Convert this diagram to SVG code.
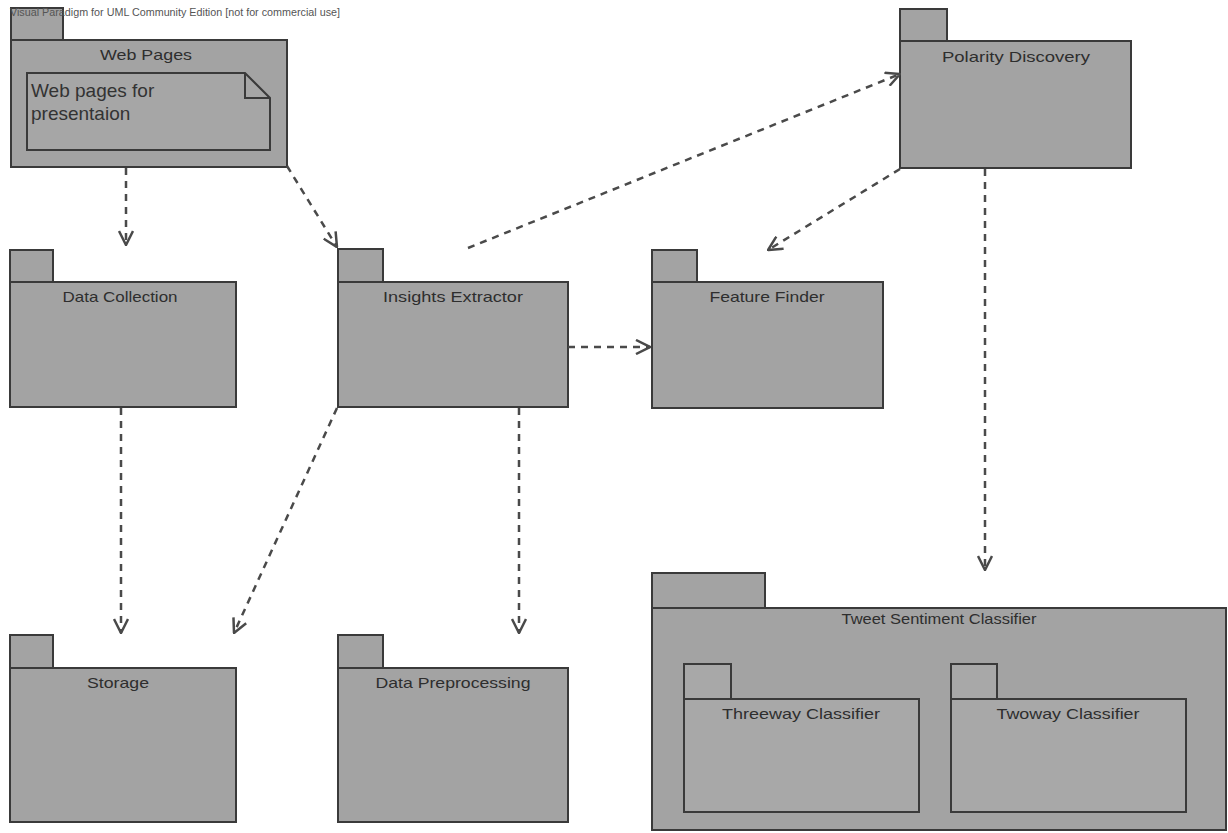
<svg xmlns="http://www.w3.org/2000/svg" width="1228" height="833" viewBox="0 0 1228 833">
<defs>
<style>
.pkg{fill:#a3a3a3;stroke:#3a3a3a;stroke-width:2}
.inner{fill:#a8a8a8;stroke:#3a3a3a;stroke-width:2}
.title{font-family:"Liberation Sans",Arial,sans-serif;font-size:15px;fill:#2e2e2e;text-anchor:middle}
.note{fill:#a6a6a6;stroke:#3a3a3a;stroke-width:2}
.notetext{font-family:"Liberation Sans",Arial,sans-serif;font-size:19px;fill:#333}
.dep{fill:none;stroke:#4a4a4a;stroke-width:2.5;stroke-dasharray:7 6;marker-end:url(#open)}
.hdr{font-family:"Liberation Sans",Arial,sans-serif;font-size:11px;fill:#555}
</style>
<marker id="open" viewBox="0 0 16 16" refX="15" refY="8" markerWidth="16" markerHeight="16" markerUnits="userSpaceOnUse" orient="auto">
<path d="M1,1 L15,8 L1,15" fill="none" stroke="#4a4a4a" stroke-width="2.5" stroke-dasharray="none"/>
</marker>
</defs>
<rect x="0" y="0" width="1228" height="833" fill="#ffffff"/>

<g id="web-pages">
<rect class="pkg" x="11" y="8" width="52" height="32"/>
<rect class="pkg" x="11" y="40" width="276" height="127"/>
<text class="title" x="146" y="60" textLength="92" lengthAdjust="spacingAndGlyphs">Web Pages</text>
<path class="note" d="M27,73 L245,73 L270,98 L270,150 L27,150 Z"/>
<path d="M245,73 L245,98 L270,98" fill="none" stroke="#3a3a3a" stroke-width="2"/>
<text class="notetext" x="31" y="97">Web pages for</text>
<text class="notetext" x="31" y="120">presentaion</text>
</g>

<text class="hdr" x="10" y="16" textLength="330" lengthAdjust="spacingAndGlyphs">Visual Paradigm for UML Community Edition [not for commercial use]</text>

<g id="polarity-discovery">
<rect class="pkg" x="900" y="9" width="47" height="32"/>
<rect class="pkg" x="900" y="41" width="231" height="127"/>
<text class="title" x="1016" y="62" textLength="148" lengthAdjust="spacingAndGlyphs">Polarity Discovery</text>
</g>

<g id="data-collection">
<rect class="pkg" x="10" y="250" width="43" height="32"/>
<rect class="pkg" x="10" y="282" width="226" height="125"/>
<text class="title" x="120" y="302" textLength="115" lengthAdjust="spacingAndGlyphs">Data Collection</text>
</g>

<g id="insights-extractor">
<rect class="pkg" x="338" y="249" width="45" height="33"/>
<rect class="pkg" x="338" y="282" width="230" height="125"/>
<text class="title" x="453" y="302" textLength="140" lengthAdjust="spacingAndGlyphs">Insights Extractor</text>
</g>

<g id="feature-finder">
<rect class="pkg" x="652" y="250" width="45" height="32"/>
<rect class="pkg" x="652" y="282" width="231" height="126"/>
<text class="title" x="767" y="302" textLength="115" lengthAdjust="spacingAndGlyphs">Feature Finder</text>
</g>

<g id="storage">
<rect class="pkg" x="10" y="635" width="43" height="33"/>
<rect class="pkg" x="10" y="668" width="226" height="154"/>
<text class="title" x="118" y="688" textLength="62" lengthAdjust="spacingAndGlyphs">Storage</text>
</g>

<g id="data-preprocessing">
<rect class="pkg" x="338" y="635" width="45" height="33"/>
<rect class="pkg" x="338" y="668" width="230" height="154"/>
<text class="title" x="453" y="688" textLength="155" lengthAdjust="spacingAndGlyphs">Data Preprocessing</text>
</g>

<g id="tweet-sentiment-classifier">
<rect class="pkg" x="652" y="573" width="113" height="35"/>
<rect class="pkg" x="652" y="608" width="574" height="222"/>
<text class="title" x="939" y="624" textLength="195" lengthAdjust="spacingAndGlyphs">Tweet Sentiment Classifier</text>
<g id="threeway-classifier">
<rect class="inner" x="684" y="664" width="47" height="35"/>
<rect class="inner" x="684" y="699" width="235" height="113"/>
<text class="title" x="801" y="719" textLength="158" lengthAdjust="spacingAndGlyphs">Threeway Classifier</text>
</g>
<g id="twoway-classifier">
<rect class="inner" x="951" y="664" width="46" height="35"/>
<rect class="inner" x="951" y="699" width="235" height="113"/>
<text class="title" x="1068" y="719" textLength="143" lengthAdjust="spacingAndGlyphs">Twoway Classifier</text>
</g>
</g>

<g id="connectors">
<path class="dep" d="M126,168 L126,245"/>
<path class="dep" d="M287,166 L337,247"/>
<path class="dep" d="M468,248 L900,74"/>
<path class="dep" d="M900,169 L768,250"/>
<path class="dep" d="M568,347 L650,347"/>
<path class="dep" d="M985,169 L985,570"/>
<path class="dep" d="M121,408 L121,633"/>
<path class="dep" d="M337,408 L234,633"/>
<path class="dep" d="M519,408 L519,633"/>
</g>
</svg>
